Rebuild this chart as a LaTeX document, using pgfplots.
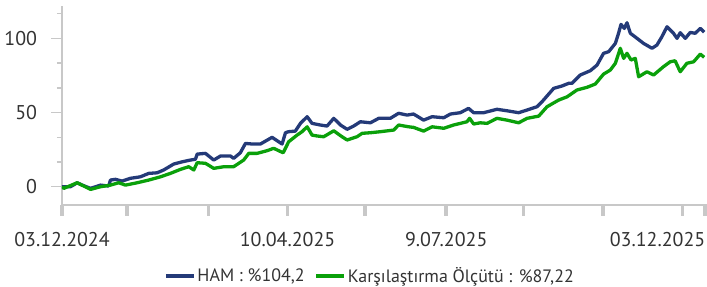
\documentclass[border=0pt]{standalone}
\usepackage{fontspec}
\setmainfont{PT Sans}
\usepackage{pgfplots}
\pgfplotsset{compat=1.18}
\definecolor{hamblue}{HTML}{243A78}
\definecolor{kgreen}{HTML}{0AA00A}
\definecolor{axgray}{HTML}{C8C8C8}
\definecolor{txt}{HTML}{333333}
\begin{document}
\begin{tikzpicture}
\begin{axis}[
  name=ax,
  scale only axis, width=645bp, height=199bp,
  xmin=0, xmax=366, ymin=-12.3, ymax=121.8,
  axis x line*=bottom, axis y line*=left,
  axis line style={axgray, line width=2.6bp},
  xtick={0,37,83,128,172,218,262,307,352,365},
  xticklabels={03.12.2024,,,10.04.2025,,9.07.2025,,,,\makebox[0pt][r]{03.12.2025}},
  ytick={0,50,100},
  minor ytick={16.667,33.333,66.667,83.333,116.667},
  tick align=outside,
  major tick length=10.5bp, minor tick length=5bp,
  xtick style={axgray, line width=3.5bp},
  ytick style={axgray, line width=1.5bp},
  ticklabel style={font=\fontsize{20}{24}\selectfont, text=txt},
  xticklabel style={yshift=-13bp},
  yticklabel style={xshift=-11bp},
  /pgf/number format/assume math mode=true,
  legend style={at={(0.4775,0)}, anchor=center, yshift=-71bp, draw=none, fill=none,
    font=\fontsize{18}{22}\selectfont, text=txt, inner sep=0pt, outer sep=0pt,
    /tikz/every even column/.append style={column sep=8bp}},
  legend columns=-1,
  legend image code/.code={\draw[#1, line width=3.3bp] (0bp,0bp) -- (28bp,0bp);},
]
\addplot[hamblue, line width=3.3bp, line join=round] coordinates {
(0,0) (1.0,0) (4.8,0) (8.6,2.7) (11.5,1.1) (16.2,-1.1) (21.8,1.1) (26.5,0.5) (27.5,4.5)
(30.3,5.0) (34.1,3.8) (38.9,5.7) (44.5,6.7) (49.2,9.0) (54.0,9.4) (57.7,11.3) (63.4,15.3)
(68.2,16.8) (72.9,18.0) (75.7,18.5) (76.7,22.0) (81.4,22.5) (86.1,18.0) (89.9,20.7)
(95.6,20.7) (97.4,19.1) (101.2,22.9) (104.1,29.2) (107.9,28.8) (112.6,28.8) (119.2,33.3)
(124.9,28.8) (126.8,36.4) (128.6,37.1) (132.4,37.5) (135.3,42.7) (139.1,47.2) (141.9,42.7)
(146.6,41.6) (150.4,40.9) (154.2,46.1) (158.0,41.6) (161.8,38.7) (165.5,40.9) (169.3,43.8)
(175.0,43.1) (179.7,46.1) (186.3,46.1) (191.0,49.5) (195.8,48.3) (199.5,49.0) (205.2,44.9)
(210.0,47.2) (216.6,46.5) (220.4,49.0) (226.0,49.9) (230.7,52.8) (233.6,49.9) (239.3,49.9)
(246.8,52.2) (252.5,51.2) (259.1,49.9) (263.9,51.7) (269.5,53.9) (272.4,57.3) (279.0,66.3)
(283.7,67.9) (287.5,69.7) (289.4,69.7) (294.1,75.3) (299.8,78.2) (303.6,82.0) (307.3,89.9)
(310.2,91.0) (314.0,96.6) (315.8,103.4) (317.2,109.4) (319.1,106.7) (320.6,110.5)
(322.5,103.4) (326.3,100.0) (330.0,96.6) (334.8,93.3) (337.6,95.5) (340.4,101.1)
(343.3,107.8) (347.0,103.4) (349.0,100.0) (350.8,103.8) (353.7,100.0) (356.5,104.0)
(359.3,103.4) (362.2,106.7) (364.4,104.2)
};
\addlegendentry{HAM : \%104,2}
\addplot[kgreen, line width=3.3bp, line join=round] coordinates {
(0,0) (1.0,-1.1) (8.6,2.7) (16.2,-1.8) (21.8,0) (27.5,1.1) (32.2,2.7) (36.0,1.1) (42.7,2.7)
(49.2,4.5) (55.9,6.7) (61.5,9.0) (67.2,11.7) (71.9,13.5) (74.8,11.3) (76.7,16.2) (81.4,15.8)
(86.1,12.4) (91.8,13.5) (97.4,13.5) (103.1,18.0) (106.0,22.5) (110.7,22.5) (116.4,24.3)
(120.1,25.9) (125.5,22.9) (128.6,30.3) (133.4,34.8) (136.2,37.1) (139.1,40.4) (141.9,34.8)
(144.8,34.2) (148.5,33.7) (154.2,37.7) (158.9,33.7) (161.8,31.5) (167.4,33.7) (170.3,36.0)
(175.0,36.4) (180.7,37.1) (188.2,38.2) (191.0,41.6) (196.7,40.4) (199.5,40.0) (205.2,37.5)
(210.0,40.4) (216.6,39.4) (222.2,41.6) (229.8,43.8) (231.3,46.1) (233.6,42.3) (237.4,43.1)
(241.2,42.7) (246.8,46.1) (252.5,44.9) (259.1,43.1) (263.9,46.1) (270.5,47.6) (275.2,53.9)
(281.8,58.4) (286.6,60.6) (292.2,65.2) (297.9,67.0) (302.6,69.2) (307.3,75.9) (311.1,78.6)
(314.0,83.2) (316.8,93.3) (318.7,86.5) (320.6,89.9) (322.9,85.4) (325.3,86.5) (327.2,74.1)
(331.9,77.5) (335.7,75.3) (341.3,80.9) (345.1,84.2) (347.9,84.9) (350.8,77.5) (354.6,83.2)
(358.4,84.2) (362.2,89.4) (364.4,87.22)
};
\addlegendentry{Karşılaştırma Ölçütü : \%87,22}
\end{axis}
\pgfresetboundingbox
\path ([xshift=-62bp,yshift=-82bp]ax.south west) rectangle ([yshift=6bp]ax.north east);
\end{tikzpicture}
\end{document}
